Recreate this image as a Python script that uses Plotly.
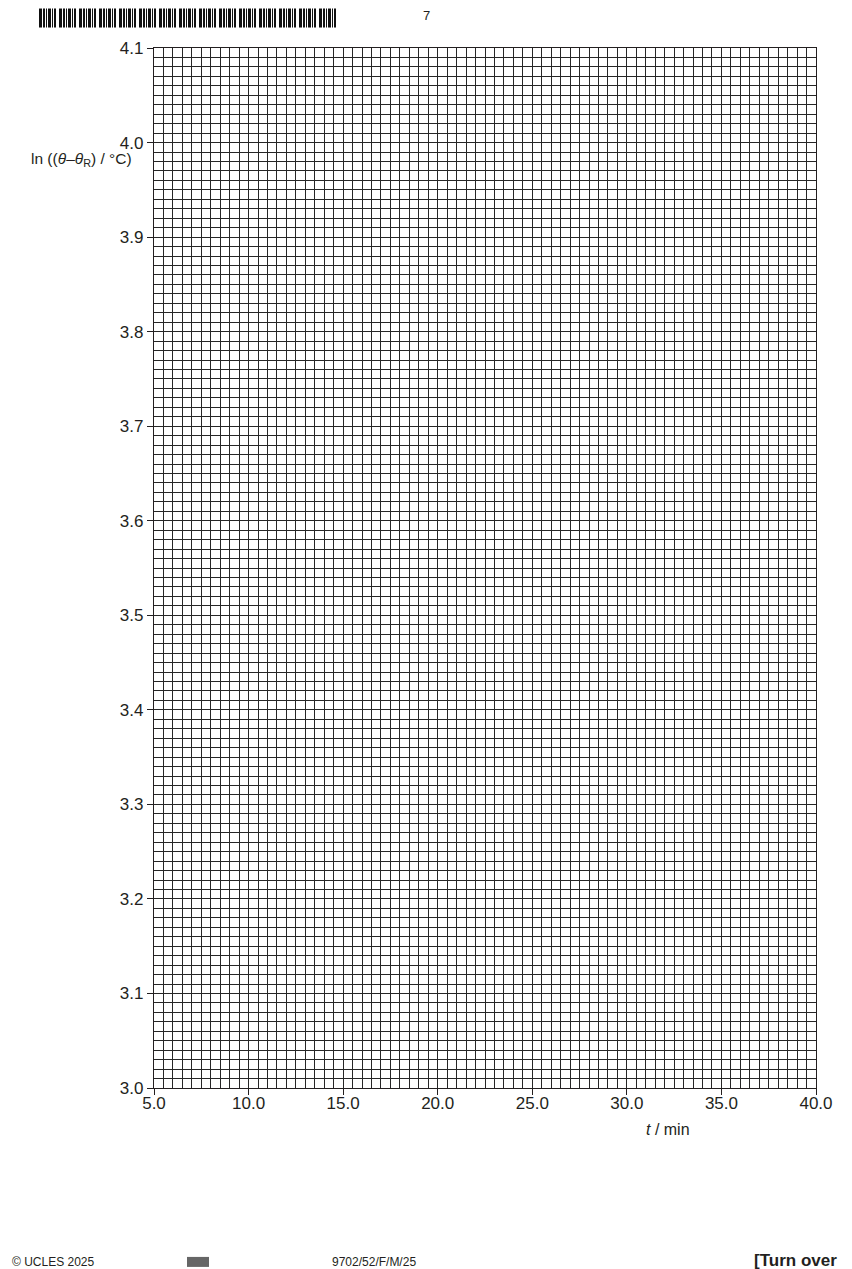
import plotly.graph_objects as go

# axis scales
x_range = [5.0, 40.0]
y_range = [3.0, 4.1]
x_ticks = [5.0, 10.0, 15.0, 20.0, 25.0, 30.0, 35.0, 40.0]
x_tick_labels = ['5.0', '10.0', '15.0', '20.0', '25.0', '30.0', '35.0', '40.0']
y_ticks = [3.0, 3.1, 3.2, 3.3, 3.4, 3.5, 3.6, 3.7, 3.8, 3.9, 4.0, 4.1]
y_tick_labels = ['3.0', '3.1', '3.2', '3.3', '3.4', '3.5', '3.6', '3.7', '3.8', '3.9', '4.0', '4.1']
x_minor_step = 0.5
y_minor_step = 0.01

# no plotted points, the graph is blank for the candidate
t_values = []
ln_values = []

# page body has an 8px margin, so the figure is sized to fit inside it
W, H = 844, 1261
ML, MR, MT, MB = 146, 36, 39.5, 181
PW, PH = W - ML - MR, H - MT - MB
grid_col = '#262626'
ink = '#231f20'
tick_font = dict(family='Liberation Sans, Arial, sans-serif', size=17, color=ink)
title_font = dict(family='Liberation Sans, Arial, sans-serif', size=15.5, color=ink)

fig = go.Figure()
fig.add_trace(go.Scatter(x=t_values, y=ln_values, mode='markers', showlegend=False))

fig.update_xaxes(range=x_range, tickvals=x_ticks, ticktext=x_tick_labels,
                 ticks='outside', ticklen=6, tickwidth=1.2, tickcolor=ink,
                 showline=True, linecolor=ink, linewidth=1.3, mirror=True,
                 showgrid=True, gridcolor=grid_col, gridwidth=1,
                 minor=dict(dtick=x_minor_step, showgrid=True, gridcolor=grid_col, gridwidth=1),
                 zeroline=False, tickfont=tick_font, fixedrange=True, automargin=False,
                 ticklabelstandoff=-7)
fig.update_yaxes(range=y_range, tickvals=y_ticks, ticktext=y_tick_labels,
                 ticks='outside', ticklen=6, tickwidth=1.2, tickcolor=ink,
                 showline=True, linecolor=ink, linewidth=1.3, mirror=True,
                 showgrid=True, gridcolor=grid_col, gridwidth=1,
                 minor=dict(dtick=y_minor_step, showgrid=True, gridcolor=grid_col, gridwidth=1),
                 zeroline=False, tickfont=tick_font, fixedrange=True, automargin=False)

# axis titles
fig.add_annotation(text='ln ((<i>θ</i>–<i>θ</i><sub>R</sub>) / °C)', xref='paper', yref='paper',
                   x=0, y=1, xanchor='right', yanchor='middle', xshift=-20, yshift=-111,
                   showarrow=False, font=title_font)
fig.add_annotation(text='<i>t</i> / min', xref='x', yref='paper', x=32.2, y=0,
                   xanchor='center', yanchor='top', yshift=-31, showarrow=False,
                   font=dict(family='Liberation Sans, Arial', size=16, color=ink))

# page furniture
fig.add_annotation(text='7', xref='paper', yref='paper', x=(426 - 8 - ML) / PW, y=1, xanchor='center',
                   yanchor='bottom', yshift=MT - 16, showarrow=False,
                   font=dict(family='Liberation Sans, Arial', size=13, color=ink))
foot_font = dict(family='Liberation Sans, Arial', size=12, color=ink)
fig.add_annotation(text='© UCLES 2025', xref='paper', yref='paper', x=(10 - 8 - ML) / PW, y=0,
                   xanchor='left', yanchor='top', yshift=-(MB - 16), showarrow=False, font=foot_font)
fig.add_annotation(text='9702/52/F/M/25', xref='paper', yref='paper', x=(330 - 8 - ML) / PW, y=0,
                   xanchor='left', yanchor='top', yshift=-(MB - 16), showarrow=False, font=foot_font)
fig.add_annotation(text='<b>[Turn over</b>', xref='paper', yref='paper', x=(752 - 8 - ML) / PW, y=0,
                   xanchor='left', yanchor='top', yshift=-(MB - 20), showarrow=False,
                   font=dict(family='Liberation Sans, Arial', size=17, color=ink))

# barcode strip at the top (decoration)
bar_pattern = [(0, 3), (4, 2), (7, 1), (9, 3), (13, 1), (15, 2)]
group_w = 20
shapes = []
for g in range(15):
    for off, w in bar_pattern:
        x0 = (39 - 8 + g * group_w + off - ML) / PW
        shapes.append(dict(type='rect', xref='paper', yref='paper', x0=x0, x1=x0 + w / PW,
                           y0=1 + (MT - 19) / PH, y1=1 + MT / PH,
                           fillcolor='#111', line_width=0, layer='above'))
# small 2D code in footer
shapes.append(dict(type='rect', xref='paper', yref='paper',
                   x0=(187 - 8 - ML) / PW, x1=(209 - 8 - ML) / PW,
                   y0=-(MB - 12) / PH, y1=-(MB - 2) / PH,
                   fillcolor='#666', line_width=0))
fig.update_layout(shapes=shapes)

fig.update_layout(width=W, height=H, margin=dict(l=ML, r=MR, t=MT, b=MB, pad=0),
                  plot_bgcolor='white', paper_bgcolor='white', showlegend=False)
fig.write_html('out.html')
